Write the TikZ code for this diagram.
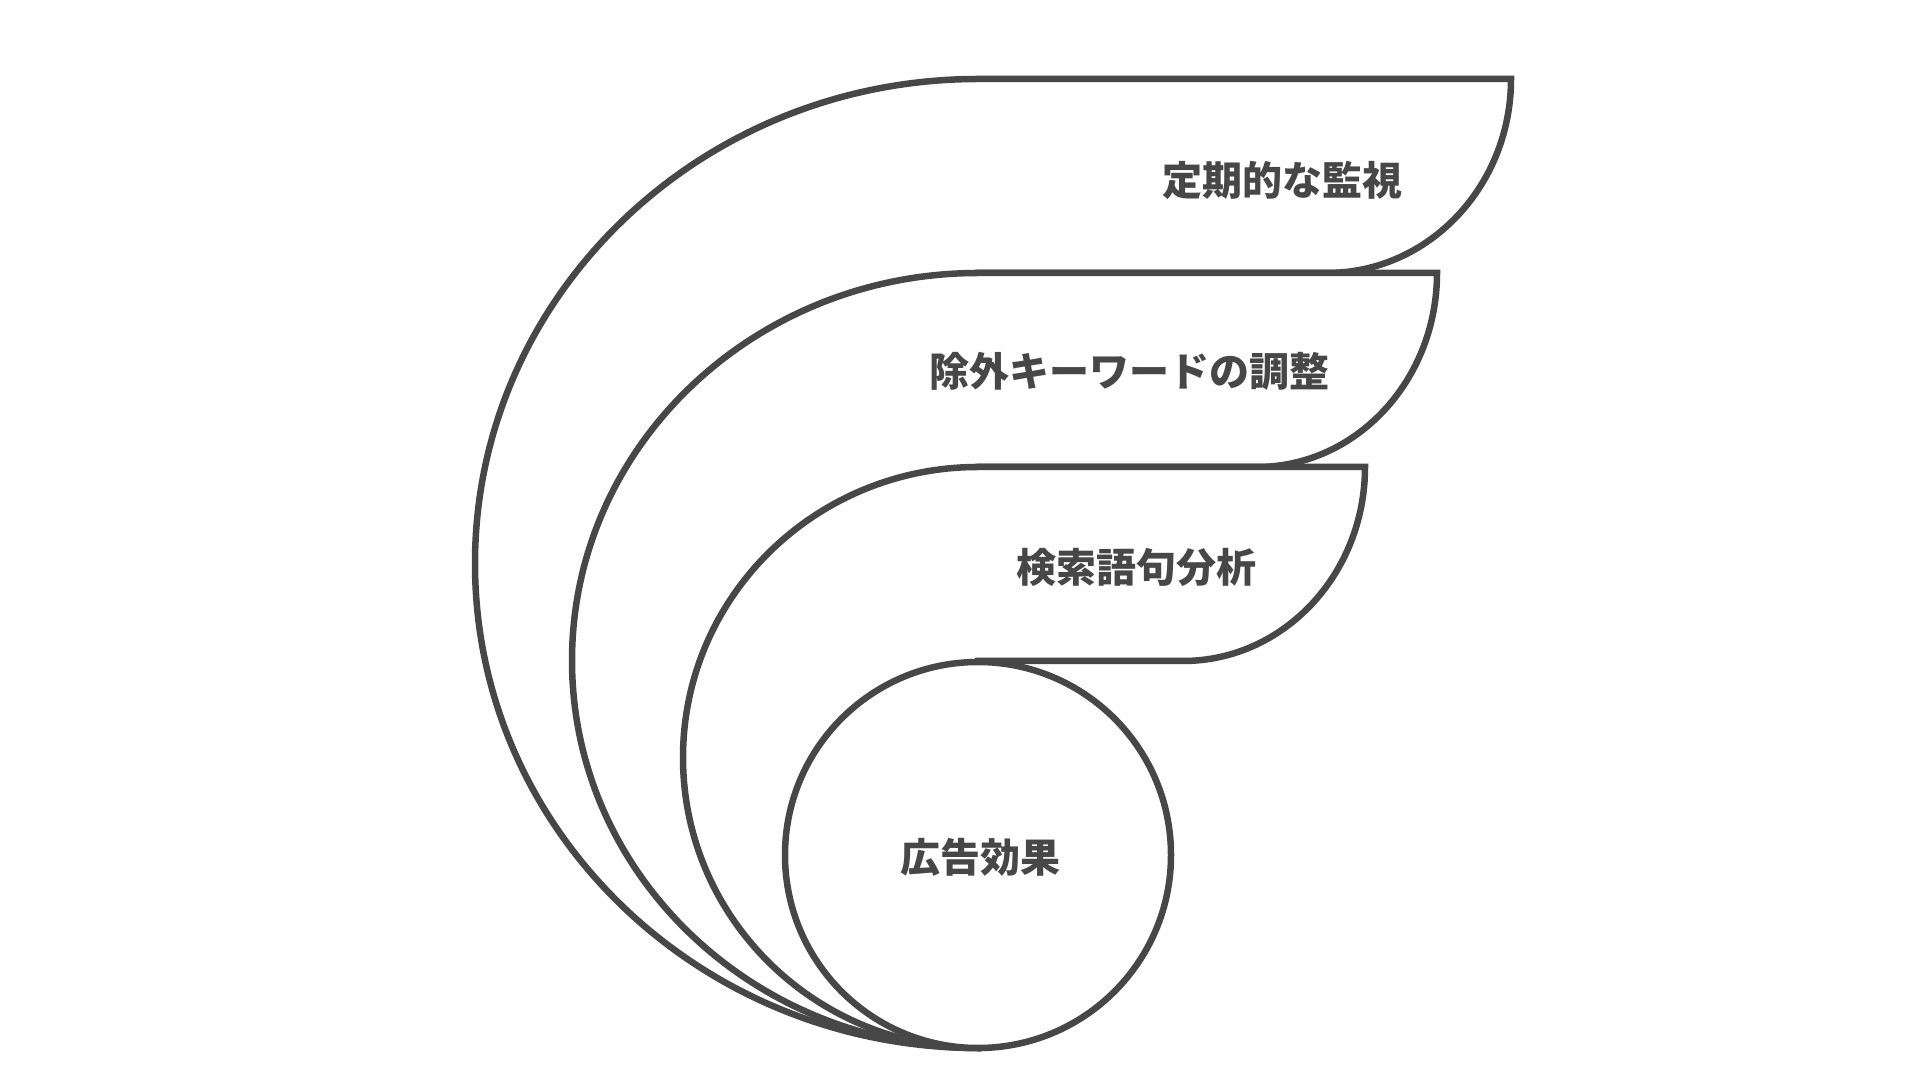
\documentclass[tikz,border=0pt]{standalone}
\usepackage{fontspec}
\newfontfamily\jpfont{Noto Sans CJK JP}
\usepackage{tikz}
\usetikzlibrary{positioning}
\definecolor{colline}{rgb}{0.28,0.28,0.28}

\begin{document}
\begin{tikzpicture}[x=1pt, y=1pt, line width=6.5pt,
    band/.style={draw=colline, fill=white},
    tag/.style={inner sep=0pt, text=colline, font=\jpfont\bfseries\fontsize{40}{48}\selectfont}]
    \useasboundingbox (0,0) rectangle (1920,1080);
    \filldraw[band] (978,32) arc[start angle=270, end angle=90, x radius=503, y radius=484.5]
      -- (1511,1001) arc[start angle=0, end angle=-90, x radius=184, y radius=194] -- (978,807) -- cycle;
    \filldraw[band] (978,32) arc[start angle=270, end angle=90, x radius=406, y radius=387.5]
      -- (1437,807) arc[start angle=0, end angle=-90, x radius=180, y radius=194] -- (978,613) -- cycle;
    \filldraw[band] (978,32) arc[start angle=270, end angle=90, x radius=295, y radius=290.5]
      -- (1365,613) arc[start angle=0, end angle=-90, x radius=182, y radius=194] -- (978,419) -- cycle;
    \filldraw[band] (978,225) circle (193);
    \node[tag, anchor=east] (monitor) at (1406,900) {定期的な監視};
    \node[tag, anchor=east] (negative) at (1333,709) {除外キーワードの調整};
    \node[tag, anchor=east] (query) at (1260,513) {検索語句分析};
    \node[tag] (effect) at (980,223) {広告効果};
\end{tikzpicture}
\end{document}
